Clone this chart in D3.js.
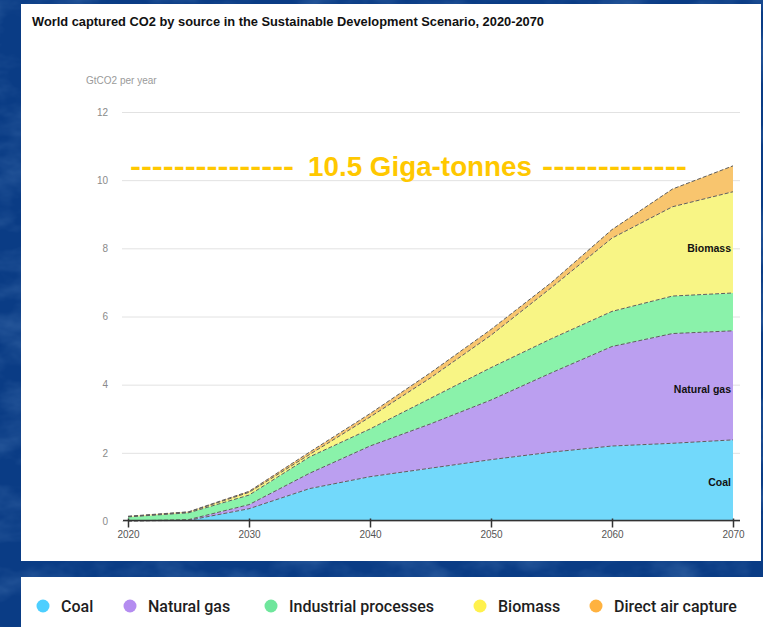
<!DOCTYPE html>
<html>
<head>
<meta charset="utf-8">
<script src="https://cdn.jsdelivr.net/npm/d3@7"></script>
<style>
  html, body { margin: 0; padding: 0; background: #0c418a; }
  svg { display: block; }
</style>
</head>
<body>
<svg id="chart" width="763" height="627"></svg>
<script>
// ---- data (GtCO2 per year, per source) ----
const years = [2020, 2025, 2030, 2035, 2040, 2045, 2050, 2055, 2060, 2065, 2070];
const coal = [0.00, 0.02, 0.36, 0.95, 1.30, 1.55, 1.80, 2.02, 2.20, 2.28, 2.38];
const naturalGas = [0.00, 0.02, 0.12, 0.45, 0.90, 1.30, 1.75, 2.33, 2.92, 3.22, 3.20];
const industrial = [0.12, 0.20, 0.28, 0.48, 0.50, 0.75, 0.95, 1.00, 1.03, 1.10, 1.11];
const biomass = [0.01, 0.02, 0.08, 0.07, 0.35, 0.60, 0.95, 1.50, 2.15, 2.62, 2.97];
const directAir = [0.01, 0.01, 0.03, 0.07, 0.10, 0.15, 0.17, 0.15, 0.25, 0.52, 0.76];

const seriesNames = ["Coal", "Natural gas", "Industrial processes", "Biomass", "Direct air capture"];
const seriesKeys = ["coal", "gas", "ind", "bio", "dac"];
const areaColors = ["#72d9fb", "#bb9ff0", "#8af2aa", "#f8f585", "#f8c56e"];
const legendColors = ["#4dcfff", "#b48cf0", "#6fe69c", "#fff14d", "#ffb23f"];
const yTicks = [0, 2, 4, 6, 8, 10, 12];
const xTicks = [2020, 2030, 2040, 2050, 2060, 2070];
const inlineLabels = [
  { key: "bio", text: "Biomass", year: 2070, value: 8.0 },
  { key: "gas", text: "Natural gas", year: 2070, value: 3.86 },
  { key: "coal", text: "Coal", year: 2070, value: 1.13 }
];
const titleText = "World captured CO2 by source in the Sustainable Development Scenario, 2020-2070";
const unitText = "GtCO2 per year";
const annotation = { left: "---------------", mid: "10.5 Giga-tonnes", right: "-------------", value: 10.5 };

const rows = years.map((y, i) => ({
  year: y, coal: coal[i], gas: naturalGas[i], ind: industrial[i], bio: biomass[i], dac: directAir[i]
}));

const svg = d3.select("#chart");

// ---- background texture ----
const defs = svg.append("defs");
const filt = defs.append("filter").attr("id", "tex").attr("x", 0).attr("y", 0).attr("width", "100%").attr("height", "100%");
filt.append("feTurbulence").attr("type", "fractalNoise").attr("baseFrequency", "0.02 0.035").attr("numOctaves", 4).attr("seed", 11).attr("result", "n");
filt.append("feColorMatrix").attr("in", "n").attr("type", "matrix")
  .attr("values", "0 0 0 0 0.18  0 0 0 0 0.36  0 0 0 0 0.66  0 0 0 1.0 -0.4");
svg.append("rect").attr("width", 763).attr("height", 627).attr("fill", "#0a3c85");
svg.append("rect").attr("width", 763).attr("height", 627).attr("filter", "url(#tex)").attr("opacity", 0.55);

// ---- panels ----
svg.append("rect").attr("x", 21).attr("y", 4).attr("width", 740).attr("height", 557).attr("fill", "#ffffff");
svg.append("rect").attr("x", 21).attr("y", 577).attr("width", 742).attr("height", 50).attr("fill", "#ffffff");

// ---- scales ----
const x = d3.scaleLinear().domain([2020, 2070]).range([128, 733]);
const y = d3.scaleLinear().domain([0, 12]).range([521, 112]);

// title
svg.append("text").attr("x", 32).attr("y", 26)
  .attr("font-family", "Liberation Sans, Arial, sans-serif").attr("font-size", 12.5)
  .attr("font-weight", 600).attr("fill", "#111")
  .attr("textLength", 512).attr("lengthAdjust", "spacingAndGlyphs")
  .text(titleText);

svg.append("text").attr("x", 86).attr("y", 84)
  .attr("font-family", "Liberation Sans, Arial, sans-serif").attr("font-size", 10)
  .attr("fill", "#9a9a9a").text(unitText);

// grid + y labels
const yAxis = d3.axisLeft(y).tickValues(yTicks).tickSize(-(740 - 122)).tickPadding(14).tickFormat(d3.format("d"));
const gy = svg.append("g").attr("transform", "translate(122,0)").call(yAxis);
gy.select(".domain").remove();
gy.selectAll(".tick line").attr("stroke", "#e2e2e2").attr("stroke-width", 1);
gy.selectAll(".tick text").attr("font-family", "Liberation Sans, Arial, sans-serif").attr("font-size", 10).attr("fill", "#8a8a8a");

// stacked areas
const stack = d3.stack().keys(seriesKeys);
const layers = stack(rows);
const area = d3.area().x(d => x(d.data.year)).y0(d => y(d[0])).y1(d => y(d[1]));
const line = d3.line().x(d => x(d.data.year)).y(d => y(d[1]));

svg.append("g").selectAll("path").data(layers).join("path")
  .attr("d", area).attr("fill", (d, i) => areaColors[i]);

svg.append("g").selectAll("path").data(layers).join("path")
  .attr("d", line).attr("fill", "none").attr("stroke", "#5e5e5e")
  .attr("stroke-width", 1).attr("stroke-dasharray", "4,2");

// x axis
const xAxis = d3.axisBottom(x).tickValues(xTicks).tickSize(7).tickPadding(3).tickFormat(d3.format("d"));
const gx = svg.append("g").attr("transform", "translate(0,520.5)").call(xAxis);
gx.select(".domain").attr("d", "M123,0H740").attr("stroke", "#333").attr("stroke-width", 1.5);
gx.selectAll(".tick line").attr("stroke", "#333").attr("stroke-width", 1.5).attr("y1", -2);
gx.selectAll(".tick text").attr("font-family", "Liberation Sans, Arial, sans-serif").attr("font-size", 10).attr("fill", "#555");

// inline labels
svg.append("g").selectAll("text").data(inlineLabels).join("text")
  .attr("x", d => x(d.year) - 2).attr("y", d => y(d.value) + 3.5)
  .attr("text-anchor", "end")
  .attr("font-family", "Liberation Sans, Arial, sans-serif").attr("font-size", 10.5)
  .attr("font-weight", "bold").attr("fill", "#111")
  .text(d => d.text);

// annotation
const ay = y(annotation.value) + 13;
const annFont = "Liberation Sans Narrow, Arial Narrow, Liberation Sans, sans-serif";
const ann = svg.append("g").attr("fill", "#ffc800").attr("font-family", annFont).attr("font-weight", "bold");
ann.append("text").attr("x", 130).attr("y", ay).attr("font-size", 27)
  .attr("textLength", 164).attr("lengthAdjust", "spacingAndGlyphs").text(annotation.left);
ann.append("text").attr("x", 308).attr("y", ay).attr("font-size", 27)
  .attr("textLength", 224).attr("lengthAdjust", "spacingAndGlyphs").text(annotation.mid);
ann.append("text").attr("x", 542).attr("y", ay).attr("font-size", 27)
  .attr("textLength", 145).attr("lengthAdjust", "spacingAndGlyphs").text(annotation.right);

// legend
const legendX = [43, 130, 271, 480, 596];
const lg = svg.append("g").selectAll("g").data(seriesNames).join("g")
  .attr("transform", (d, i) => `translate(${legendX[i]},606)`);
lg.append("circle").attr("r", 6.5).attr("fill", (d, i) => legendColors[i]);
lg.append("text").attr("x", 18).attr("y", 5.5)
  .attr("font-family", "Roboto, Inter, sans-serif").attr("font-size", 16).attr("font-weight", 500)
  .attr("fill", "#1e1e1e").text(d => d);
</script>
</body>
</html>
